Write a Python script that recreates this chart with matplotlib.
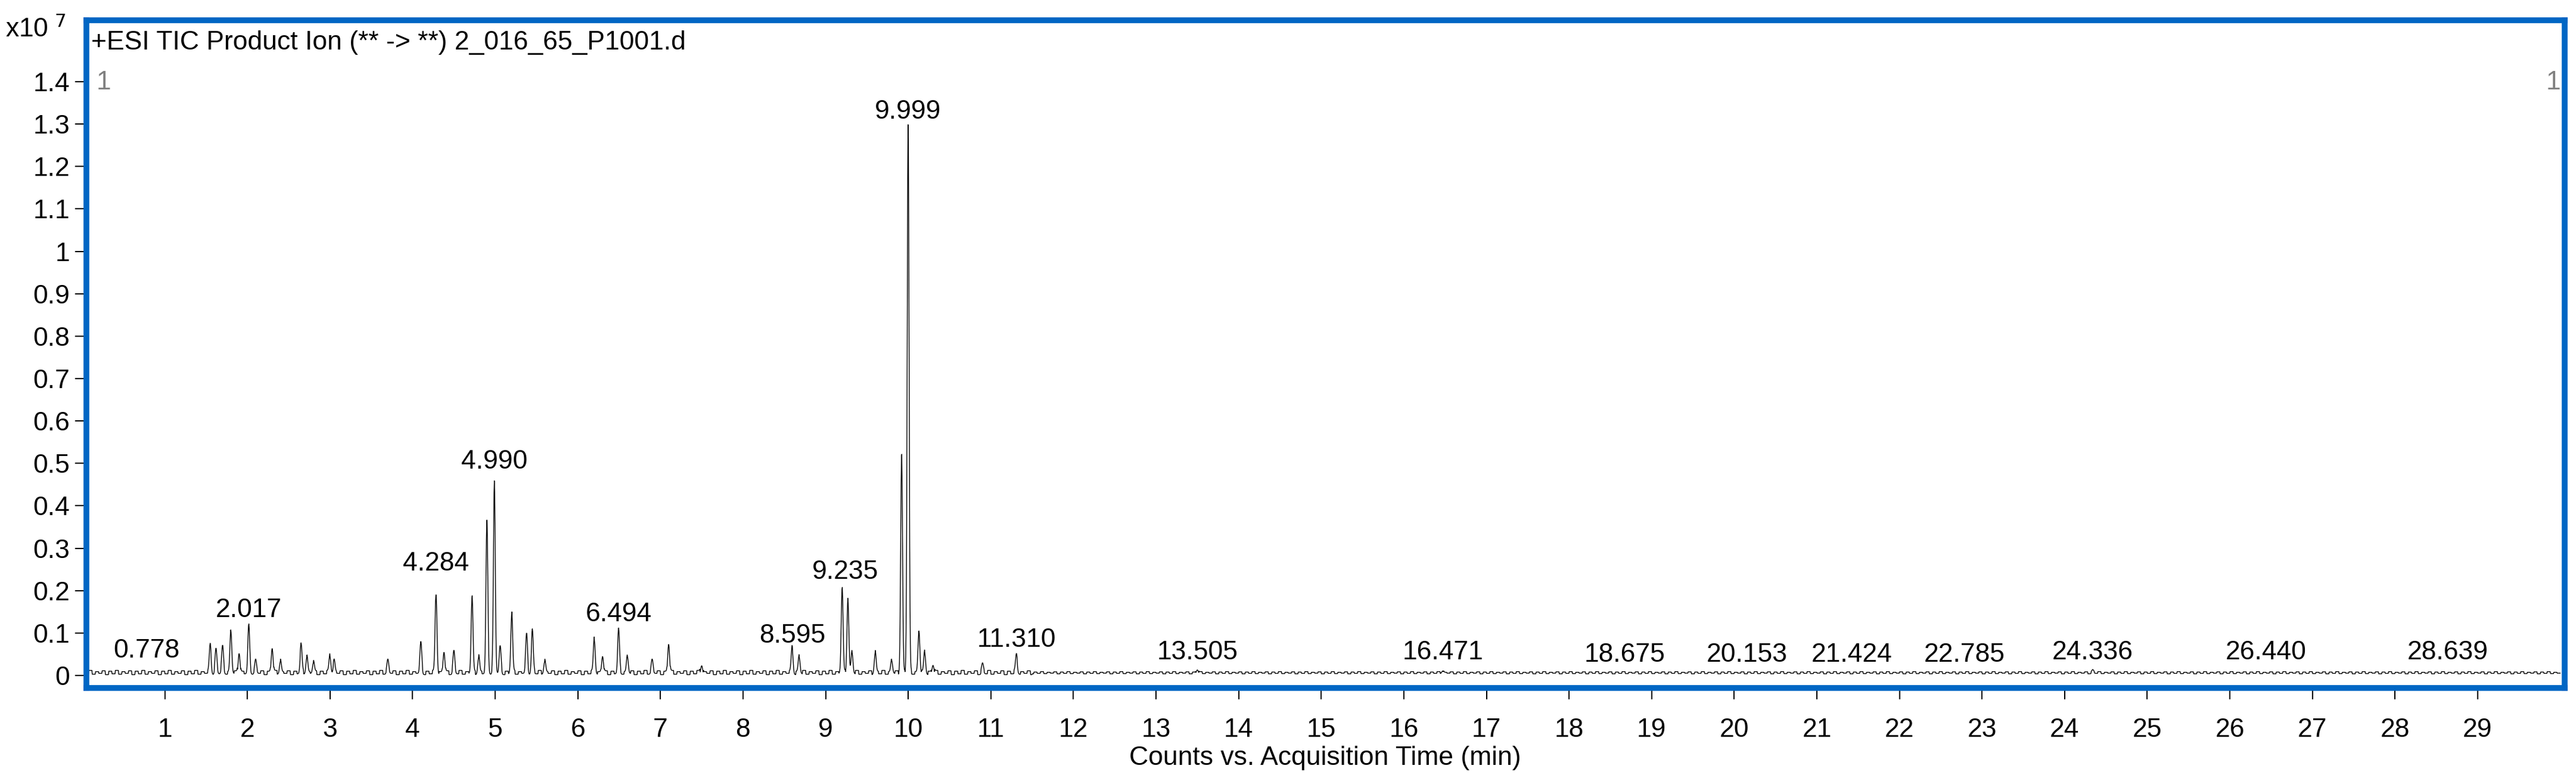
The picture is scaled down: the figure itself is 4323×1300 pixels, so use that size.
import numpy as np
import matplotlib
matplotlib.use("Agg")
import matplotlib.pyplot as plt

plt.rcParams['font.family'] = ['Liberation Sans Narrow', 'Liberation Sans', 'DejaVu Sans']

# Peak list: retention time (min), height (x1e7)
peak_rt = [1.55, 1.62, 1.70, 1.80, 1.90, 2.017, 2.10, 2.30, 2.40, 2.65, 2.72, 2.80, 3.00, 3.05, 3.70,
           4.10, 4.284, 4.38, 4.50, 4.72, 4.80, 4.90, 4.990, 5.06, 5.20, 5.38, 5.45, 5.60,
           6.20, 6.30, 6.494, 6.60, 6.90, 7.10, 7.50, 8.595, 8.68, 9.20, 9.27, 9.32, 9.60, 9.80,
           9.920, 9.999, 10.13, 10.20, 10.30, 10.90, 11.310, 13.50, 16.47, 24.34]
peak_h = [0.065, 0.055, 0.06, 0.10, 0.05, 0.11, 0.03, 0.06, 0.03, 0.065, 0.04, 0.025, 0.04, 0.03, 0.03,
          0.07, 0.19, 0.05, 0.05, 0.18, 0.04, 0.36, 0.45, 0.06, 0.14, 0.09, 0.10, 0.03,
          0.08, 0.04, 0.10, 0.04, 0.03, 0.07, 0.02, 0.06, 0.04, 0.20, 0.18, 0.05, 0.05, 0.03,
          0.52, 1.30, 0.10, 0.05, 0.02, 0.02, 0.04, 0.008, 0.006, 0.006]
peak_w = 0.011

# small baseline fluctuation pattern (x1e7), repeated along the trace
noise_pattern = [0.010, 0.004, 0.012, 0.003, 0.009, 0.005, 0.011, 0.002]
noise_spacing = 0.04

labels_rt = [0.778, 2.017, 4.284, 4.990, 6.494, 8.595, 9.235, 9.999, 11.310, 13.505, 16.471,
             18.675, 20.153, 21.424, 22.785, 24.336, 26.440, 28.639]
labels_y = [0.030, 0.125, 0.235, 0.475, 0.115, 0.065, 0.215, 1.300, 0.055, 0.025, 0.025,
            0.020, 0.020, 0.020, 0.020, 0.025, 0.025, 0.025]

t = np.arange(0.05, 30.0, 0.004)
idx = np.floor(t / noise_spacing).astype(int) % len(noise_pattern)
y = np.array(noise_pattern)[idx]
y = np.where(t > 11.5, y * 0.5 + 0.003, y)
for rt, h in zip(peak_rt, peak_h):
    y = y + h * np.exp(-0.5 * ((t - rt) / peak_w) ** 2)

fig = plt.figure(figsize=(43.23, 13.0), dpi=100)
ax = fig.add_axes([0.0335, 0.112, 0.962, 0.862])
ax.plot(t, y, color='black', lw=1.0)
ax.set_xlim(0.05, 30.05)
ax.set_ylim(-0.03, 1.545)
ax.set_xticks(range(1, 30))
ax.set_yticks([0, 0.1, 0.2, 0.3, 0.4, 0.5, 0.6, 0.7, 0.8, 0.9, 1.0, 1.1, 1.2, 1.3, 1.4])
ax.set_yticklabels(['0', '0.1', '0.2', '0.3', '0.4', '0.5', '0.6', '0.7', '0.8', '0.9', '1',
                    '1.1', '1.2', '1.3', '1.4'])
ax.tick_params(axis='both', labelsize=32, length=14, width=1.5, direction='out', pad=6)
ax.tick_params(axis='x', pad=22)
for s in ax.spines.values():
    s.set_color('#0066C4')
    s.set_linewidth(7)

for rt, ly in zip(labels_rt, labels_y):
    ax.text(rt, ly, f"{rt:.3f}", ha='center', va='bottom', fontsize=32)

ax.text(0.002, 0.985, "+ESI TIC Product Ion (** -> **) 2_016_65_P1001.d", transform=ax.transAxes,
        ha='left', va='top', fontsize=32)
ax.text(0.004, 0.925, "1", transform=ax.transAxes, ha='left', va='top', fontsize=32, color='gray')
ax.text(0.9985, 0.925, "1", transform=ax.transAxes, ha='right', va='top', fontsize=32, color='gray')
fig.text(0.002, 0.945, r"x10$^{\ 7}$", ha='left', va='bottom', fontsize=32)
ax.set_xlabel("Counts vs. Acquisition Time (min)", fontsize=32, labelpad=4)

fig.savefig("out.png", dpi=100, facecolor='white')
